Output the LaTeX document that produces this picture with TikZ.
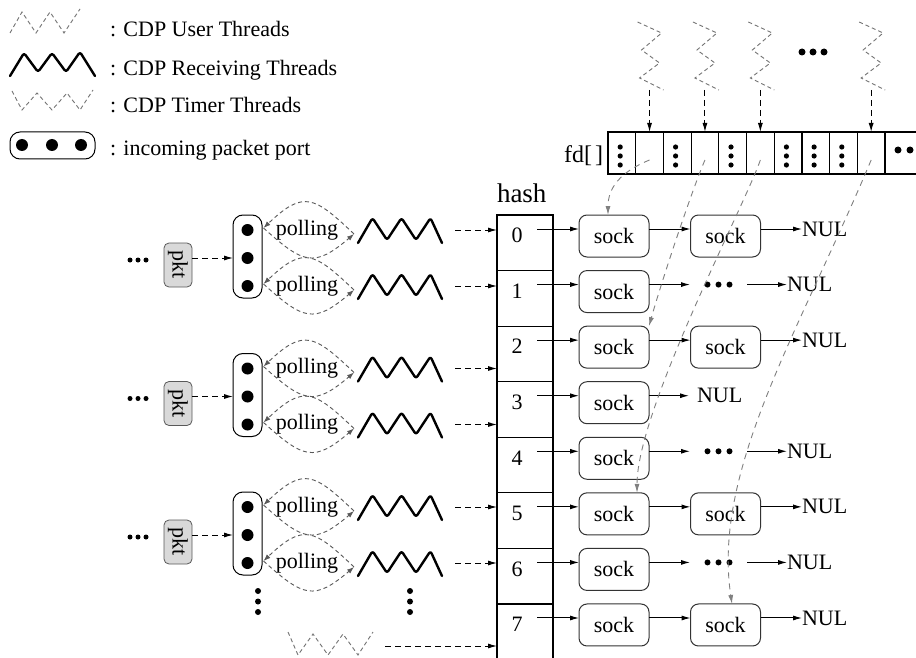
\documentclass[tikz,border=0pt]{standalone}
\usepackage{fontspec}
\setmainfont{Liberation Serif}
\usetikzlibrary{arrows.meta,calc}
\begin{document}
\begin{tikzpicture}[x=1pt,y=-1pt,
  every node/.style={inner sep=0pt,outer sep=0pt},
  txt/.style={font=\fontsize{22}{26}\selectfont},
  arr/.style={-{Latex[length=9pt,width=5pt]},line width=1pt},
  darr/.style={arr,dash pattern=on 6pt off 4pt},
  gdash/.style={draw=black!55,line width=0.9pt,dash pattern=on 4pt off 3pt},
  gpoll/.style={draw=black!65,line width=0.9pt,dash pattern=on 4pt off 3pt},
  ptip/.style={-{Latex[length=7pt,width=5pt]}},
  garr/.style={draw=black!50,line width=0.9pt,dash pattern=on 6pt off 5pt,-{Latex[length=9pt,width=5pt]}},
  recv/.style={line width=2.4pt,line join=round,line cap=round,rounded corners=2.5pt},
  sockbox/.style={draw=black!80,line width=1pt,rounded corners=8pt,minimum width=70pt,minimum height=42pt,txt},
  hcell/.style={draw,line width=1.2pt,minimum width=56pt,minimum height=55.57pt},
  fdcell/.style={draw,line width=1.2pt,minimum width=27.7pt,minimum height=42pt},
  bdot/.style={circle,fill=black,minimum size=12pt},
  portbox/.style={draw,line width=1pt,rounded corners=10pt,minimum width=29pt,minimum height=83pt},
  pktbox/.style={draw=black!65,fill=black!15,line width=0.8pt,rounded corners=5pt,minimum width=28pt,minimum height=44pt,txt},
  thnode/.style={minimum width=84pt,minimum height=25pt},
  dotsn/.style={minimum width=57pt,minimum height=8pt}
]
\useasboundingbox (0,0) rectangle (916,658);
\clip (0,0) rectangle (916,658);
\fill[white] (0,0) rectangle (916,658);

% ---------- legend ----------
\draw[gdash] (10,33) -- (22,12) -- (36,33) -- (50,12) -- (64,33) -- (80,9);
\node[txt,anchor=base west] (lg1) at (110,37) {: CDP User Threads};
\draw[recv] (10,76) -- (24,53) -- (38,72) -- (52,53) -- (66,72) -- (80,52) -- (95,76);
\node[txt,anchor=base west] (lg2) at (110,76) {: CDP Receiving Threads};
\draw[gdash] (12,91) -- (22,110) -- (37,93) -- (52,110) -- (67,93) -- (80,110) -- (93,90);
\node[txt,anchor=base west] (lg3) at (110,113) {: CDP Timer Threads};
\node[draw,line width=1pt,rounded corners=10pt,minimum width=85pt,minimum height=27pt] (lgp) at (52.5,145.5) {};
\fill (22,145) circle (6pt) (52,145) circle (6pt) (81,145) circle (6pt);
\node[txt,anchor=base west] (lg4) at (110,156) {: incoming packet port};

% ---------- hash table ----------
\node[font=\fontsize{27}{30}\selectfont,anchor=base west] (hashl) at (497,202) {hash};
\foreach \i in {0,...,7}{
  \pgfmathsetmacro\T{215+55.57*\i}
  \node[hcell] (hc\i) at (525,\T+27.785) {};
  \node[txt] (hn\i) at (517,\T+20.5) {\i};
  \coordinate (ha\i) at (537,\T+14);
  \node[sockbox] (sA\i) at (614,\T+21) {sock};
  \draw[arr] (ha\i) -- (ha\i -| sA\i.west);
}
\foreach \i in {0,2,5,7}{
  \pgfmathsetmacro\T{215+55.57*\i}
  \node[sockbox] (sB\i) at (725.5,\T+21) {sock};
  \draw[arr] ([yshift=7pt]sA\i.east) -- ([yshift=7pt]sB\i.west);
  \node[txt,anchor=west] (nul\i) at (802,\T+14) {NUL};
  \draw[arr] ([yshift=7pt]sB\i.east) -- (nul\i.west);
}
\foreach \i in {1,4,6}{
  \pgfmathsetmacro\T{215+55.57*\i}
  \node[dotsn] (dd\i) at (718.5,\T+14) {};
  \fill ([xshift=-11pt]dd\i.center) circle (3pt) (dd\i.center) circle (3pt) ([xshift=11pt]dd\i.center) circle (3pt);
  \draw[arr] ([yshift=7pt]sA\i.east) -- (dd\i.west);
  \node[txt,anchor=west] (nul\i) at (787,\T+14) {NUL};
  \draw[arr] (dd\i.east) -- (nul\i.west);
}
\pgfmathsetmacro\T{215+55.57*3}
\node[txt,anchor=west] (nul3) at (697,\T+14) {NUL};
\draw[arr,shorten >=8pt] ([yshift=7pt]sA3.east) -- (nul3.west);

% ---------- ports, packets, receiving threads ----------
\foreach \g/\yc/\ra/\rb in {1/258/0/1, 2/396.5/2/3, 3/535/5/6}{
  \node[portbox] (port\g) at (247.5,\yc-1.5) {};
  \node[bdot] (pa\g) at (247.5,\yc-28) {};
  \node[bdot] (pb\g) at (247.5,\yc) {};
  \node[bdot] (pc\g) at (247.5,\yc+28) {};
  \node[pktbox] (pkt\g) at (178,\yc+7) {\rotatebox{-90}{pkt}};
  \fill (130,\yc+2) circle (2.5pt) (138,\yc+2) circle (2.5pt) (146,\yc+2) circle (2.5pt);
  \draw[darr] (pkt\g.east |- pb\g) -- (port\g.west |- pb\g);
  \foreach \k/\pd/\rw/\sgn in {a/pa/\ra/-28, c/pc/\rb/28}{
    \pgfmathsetmacro\ya{\yc+\sgn}
    \node[thnode] (th\g\k) at (400,\ya) {};
    \draw[recv] (358,\ya+13) -- (372.5,\ya-12) -- (387,\ya+10) -- (401.5,\ya-12) -- (416,\ya+10) -- (430.5,\ya-12) -- (442,\ya+13);
    \node[txt] (pl\g\k) at (307,\ya) {polling};
    \draw[gpoll,ptip] ([xshift=-4pt,yshift=-4pt]th\g\k.west) .. controls +(-40,-38) and +(40,-38) .. ([xshift=10pt,yshift=2pt]\pd\g.east);
    \draw[gpoll,ptip] ([xshift=10pt,yshift=2pt]\pd\g.east) .. controls +(40,36) and +(-40,34) .. ([xshift=-4pt,yshift=-4pt]th\g\k.west);
    \draw[darr] ([xshift=13pt]th\g\k.east) -- (th\g\k.east -| hc\rw.west);
  }
}
% vertical ellipses
\fill (258,591) circle (3pt) (258,601.5) circle (3pt) (258,612) circle (3pt);
\fill (410,591) circle (3pt) (410,601.5) circle (3pt) (410,612) circle (3pt);

% timer thread
\node[minimum width=85pt,minimum height=28pt] (tt) at (330.5,646) {};
\draw[gdash] (288,632) -- (298,655) -- (313,634) -- (328,655) -- (343,634) -- (358,655) -- (373,632);
\draw[darr] ([xshift=12pt]tt.east) -- (tt.east -| hc7.west);

% ---------- fd array ----------
\node[font=\fontsize{24}{27}\selectfont,anchor=base east] (fdl) at (603,163) {fd[\hspace{3pt}]};
\foreach \j in {1,...,10}{
  \node[fdcell] (fdc\j) at (608+27.7*\j-13.85,153) {};
}
\node[fdcell,minimum width=40pt,anchor=west] (fdc11) at (885,153) {};
\foreach \j in {1,3,5,7,8,9}{
  \pgfmathsetmacro\cx{608+27.7*\j-15.5}
  \fill (\cx,147) circle (2.6pt) (\cx,156) circle (2.6pt) (\cx,165) circle (2.6pt);
}
\fill (898,150) circle (3.5pt) (910,150) circle (3.5pt) (922,150) circle (3.5pt);
\fill (802,52) circle (3.5pt) (813,52) circle (3.5pt) (824,52) circle (3.5pt);

% user threads
\foreach \j/\n in {2/1,4/2,6/3,10/4}{
  \pgfmathsetmacro\ax{608+27.7*\j-13.85}
  \node[minimum width=26pt,minimum height=68pt] (ut\n) at (\ax,56) {};
  \draw[gdash] (\ax-12,22) -- (\ax+12,33) -- (\ax-8,50) -- (\ax+10,63) -- (\ax-10,78) -- (\ax+14,90);
  \draw[darr] (ut\n.south) -- (fdc\j.north);
}

% fd -> sock references
\draw[garr] ([yshift=-7pt]fdc2.center) .. controls (620,172) and (608,188) .. ([xshift=-6pt]sA0.north);
\draw[garr] ([yshift=-7pt]fdc4.center) .. controls (692,190) and (662,280) .. (sA2.north east);
\draw[garr] ([yshift=-7pt]fdc6.center) .. controls (745,205) and (637,410) .. ([xshift=23pt]sA5.north);
\draw[garr] ([yshift=-7pt]fdc10.center) .. controls (800,330) and (712,470) .. ([xshift=6.5pt]sB7.north);
\end{tikzpicture}
\end{document}
